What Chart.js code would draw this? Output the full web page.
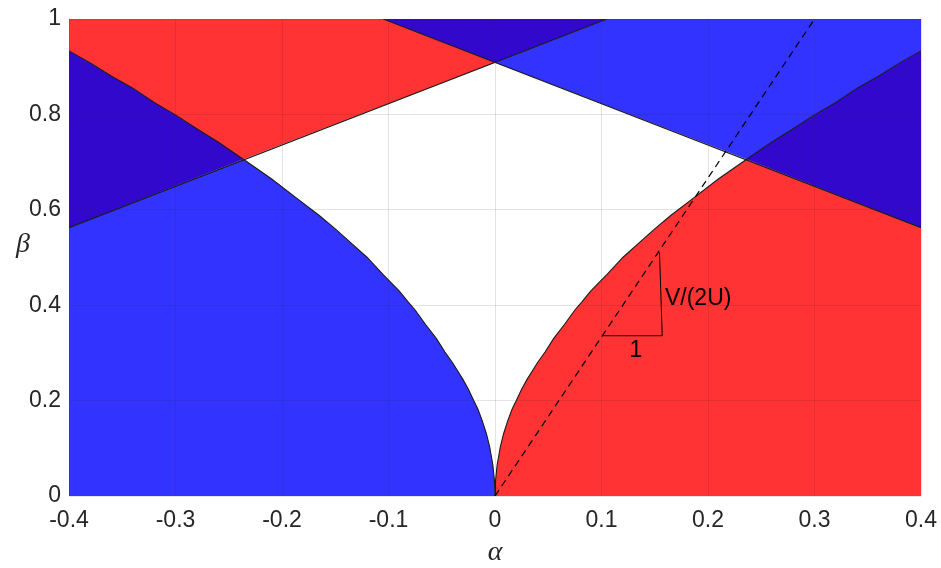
<!DOCTYPE html>
<html>
<head>
<meta charset="utf-8">
<script src="https://cdn.jsdelivr.net/npm/chart.js@4/dist/chart.umd.min.js"></script>
<style>
html,body{margin:0;padding:0;background:#fff;}
#wrap{width:941px;height:568px;position:relative;}
</style>
</head>
<body>
<div id="wrap"><canvas id="c" width="941" height="568"></canvas></div>
<script>
// ---- data ----
// boundary curve, right branch (left branch is its mirror image)
const curveAlpha = [0, 0.0005, 0.002, 0.005, 0.008, 0.012, 0.016, 0.02, 0.025, 0.03, 0.035, 0.04, 0.047, 0.055, 0.065, 0.075, 0.082, 0.09, 0.105, 0.12, 0.135, 0.15, 0.165, 0.186, 0.21, 0.2363, 0.26, 0.28, 0.3, 0.32, 0.34, 0.36, 0.38, 0.4];
const curveBeta  = [0, 0.032, 0.065, 0.103, 0.13, 0.158, 0.182, 0.20, 0.224, 0.244, 0.262, 0.28, 0.302, 0.33, 0.359, 0.39, 0.408, 0.43, 0.464, 0.50, 0.53, 0.56, 0.588, 0.624, 0.665, 0.706, 0.742, 0.77, 0.799, 0.825, 0.855, 0.88, 0.908, 0.933];
const crossIndex = 25;            // where the curve meets the straight lines
// straight boundary lines
const lineUpAlpha   = [-0.4, 0.105];
const lineUpBeta    = [0.5625, 1];
const lineDownAlpha = [-0.105, 0.4];
const lineDownBeta  = [1, 0.5625];
const apexBeta = 0.909;           // both lines at alpha = 0
// dashed line and slope triangle
const dashAlpha = [0, 0.3];
const dashBeta  = [0, 1];
const triAlpha  = [0.1008, 0.157, 0.1545];
const triBeta   = [0.336, 0.336, 0.51];
// axes
const xTicks = [-0.4, -0.3, -0.2, -0.1, 0, 0.1, 0.2, 0.3, 0.4];
const yTicks = [0, 0.2, 0.4, 0.6, 0.8, 1];

const RED = 'rgb(255,51,51)';
const BLUE = 'rgb(51,51,255)';
const DARK = 'rgb(51,8,205)';

const pt = (x, y) => ({x, y});
const right = curveAlpha.map((a, i) => pt(a, curveBeta[i]));
const left = curveAlpha.map((a, i) => pt(-a, curveBeta[i]));
const rightLow = right.slice(0, crossIndex + 1);
const rightHigh = right.slice(crossIndex);
const leftLow = left.slice(0, crossIndex + 1);
const leftHigh = left.slice(crossIndex);
const apex = pt(0, apexBeta);
const L1a = pt(lineUpAlpha[0], lineUpBeta[0]), L1b = pt(lineUpAlpha[1], lineUpBeta[1]);
const L2a = pt(lineDownAlpha[0], lineDownBeta[0]), L2b = pt(lineDownAlpha[1], lineDownBeta[1]);
const xMin = xTicks[0], xMax = xTicks[xTicks.length - 1];
const yMin = yTicks[0], yMax = yTicks[yTicks.length - 1];

const polys = [
  {c: BLUE, d: [...leftLow, L1a, pt(xMin, yMin)]},
  {c: DARK, d: [...leftHigh, L1a]},
  {c: RED,  d: [...leftHigh.slice().reverse(), apex, L2a, pt(xMin, yMax)]},
  {c: DARK, d: [L2a, L1b, apex]},
  {c: BLUE, d: [L1b, pt(xMax, yMax), ...rightHigh.slice().reverse(), apex]},
  {c: DARK, d: [...rightHigh, L2b]},
  {c: RED,  d: [...rightLow, L2b, pt(xMax, yMin)]}
];

const datasets = polys.map(p => ({
  data: p.d, backgroundColor: p.c, borderWidth: 0, borderColor: 'rgba(0,0,0,0)',
  fill: 'shape', pointRadius: 0, tension: 0, order: 10
}));
const lineDs = (d, extra) => Object.assign({
  data: d, borderColor: '#1a1a1a', borderWidth: 1.1, fill: false, pointRadius: 0, tension: 0, order: 1
}, extra || {});
datasets.push(lineDs(left.slice().reverse()));
datasets.push(lineDs(right));
datasets.push(lineDs([L1a, L1b]));
datasets.push(lineDs([L2a, L2b]));
datasets.push(lineDs(dashAlpha.map((a, i) => pt(a, dashBeta[i])), {borderDash: [7, 5], borderColor: '#000', borderWidth: 1.2, order: 0}));
datasets.push(lineDs(triAlpha.map((a, i) => pt(a, triBeta[i])), {borderColor: '#000', borderWidth: 1, order: 0}));

const annotations = [
  {text: 'V/(2U)', x: 0.1596, y: 0.413, align: 'left', font: '23px "Liberation Sans", Arial, sans-serif', color: '#000'},
  {text: '1', x: 0.1324, y: 0.305, align: 'center', font: '23px "Liberation Sans", Arial, sans-serif', color: '#000'}
];

const textPlugin = {
  id: 'texts',
  afterDraw(chart) {
    const ctx = chart.ctx;
    const xs = chart.scales.x, ys = chart.scales.y;
    ctx.save();
    ctx.textBaseline = 'middle';
    annotations.forEach(a => {
      ctx.font = a.font; ctx.fillStyle = a.color; ctx.textAlign = a.align;
      ctx.fillText(a.text, xs.getPixelForValue(a.x), ys.getPixelForValue(a.y));
    });
    ctx.fillStyle = '#262626';
    ctx.textAlign = 'center';
    ctx.font = 'italic 28px "Liberation Serif", "Times New Roman", serif';
    ctx.fillText('α', (chart.chartArea.left + chart.chartArea.right) / 2, 553);
    ctx.fillText('β', 23, 245);
    ctx.restore();
  }
};

const fmt = v => String(Number(v.toFixed(2)));
const tickFont = {family: '"Liberation Sans", Arial, sans-serif', size: 23};

new Chart(document.getElementById('c'), {
  type: 'line',
  data: {datasets},
  options: {
    responsive: false,
    animation: false,
    devicePixelRatio: 1,
    layout: {padding: {left: 0, right: 20, top: 19, bottom: 0}},
    plugins: {legend: {display: false}, tooltip: {enabled: false}},
    scales: {
      x: {
        type: 'linear', min: xMin, max: xMax,
        afterBuildTicks: s => { s.ticks = xTicks.map(v => ({value: v})); },
        afterFit: s => { s.height = 72; s.paddingLeft = 0; s.paddingRight = 0; },
        ticks: {callback: v => fmt(v), color: '#262626', font: tickFont, padding: 11, maxRotation: 0, autoSkip: false},
        grid: {color: 'rgba(38,38,38,0.13)', lineWidth: 1, drawTicks: false, z: 1},
        border: {display: false}
      },
      y: {
        type: 'linear', min: yMin, max: yMax,
        afterBuildTicks: s => { s.ticks = yTicks.map(v => ({value: v})); },
        afterFit: s => { s.width = 69; s.paddingTop = 0; s.paddingBottom = 0; },
        ticks: {callback: v => fmt(v), color: '#262626', font: tickFont, padding: 8, autoSkip: false},
        grid: {color: 'rgba(38,38,38,0.13)', lineWidth: 1, drawTicks: false, z: 1},
        border: {display: false}
      }
    }
  },
  plugins: [textPlugin]
});
</script>
</body>
</html>
